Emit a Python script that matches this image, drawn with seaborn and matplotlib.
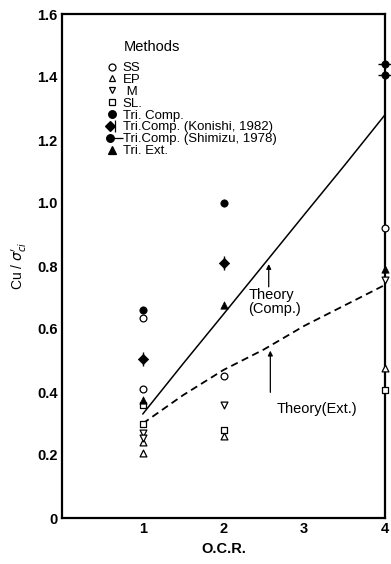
import matplotlib
matplotlib.use('Agg')
import matplotlib.pyplot as plt
import seaborn as sns
from matplotlib.lines import Line2D
from matplotlib.legend_handler import HandlerTuple

# data
ss_x = [1, 1, 2, 4]
ss_y = [0.635, 0.41, 0.45, 0.92]
ep_x = [1, 1, 2, 4]
ep_y = [0.24, 0.205, 0.26, 0.475]
m_x = [1, 1, 2, 4]
m_y = [0.27, 0.255, 0.36, 0.755]
sl_x = [1, 1, 2, 4]
sl_y = [0.36, 0.30, 0.28, 0.405]
tc_x = [1, 2]
tc_y = [0.66, 1.0]
kon_x = [1, 2]
kon_y = [0.505, 0.81]
shi_x = [4, 4]
shi_y = [1.44, 1.405]
te_x = [1, 2, 4]
te_y = [0.375, 0.675, 0.79]

theory_x = [1, 1.5, 2, 2.5, 3, 3.5, 4]
theory_comp = [0.33, 0.49, 0.647, 0.805, 0.963, 1.12, 1.28]
theory_ext = [0.30, 0.39, 0.47, 0.535, 0.61, 0.675, 0.74]

yticks = [0, 0.2, 0.4, 0.6, 0.8, 1.0, 1.2, 1.4, 1.6]
ytick_labels = ['0', '0.2', '0.4', '0.6', '0.8', '1.0', '1.2', '1.4', '1.6']
xticks = [1, 2, 3, 4]

sns.set_style('white')
plt.rcParams['font.family'] = ['Liberation Sans', 'DejaVu Sans']
plt.rcParams['mathtext.fontset'] = 'dejavusans'
plt.rcParams['text.color'] = 'black'
plt.rcParams['axes.labelcolor'] = 'black'

fig = plt.figure(figsize=(3.91, 5.64), dpi=100)
ax = fig.add_axes([62 / 391, 1 - 518 / 564, 323 / 391, 504 / 564])

# theory lines
sns.lineplot(x=theory_x, y=theory_comp, color='black', linewidth=1.1, ax=ax)
sns.lineplot(x=theory_x, y=theory_ext, color='black', linewidth=1.3,
             linestyle=(0, (4, 2.5)), ax=ax)

open_kw = dict(color='white', edgecolor='black', linewidth=0.9, s=24,
               clip_on=False, zorder=4, ax=ax)
fill_kw = dict(color='black', edgecolor='black', linewidth=0.5, s=28,
               clip_on=False, zorder=4, ax=ax)

sns.scatterplot(x=ss_x, y=ss_y, marker='o', **open_kw)
sns.scatterplot(x=ep_x, y=ep_y, marker='^', **open_kw)
sns.scatterplot(x=m_x, y=m_y, marker='v', **open_kw)
sns.scatterplot(x=sl_x, y=sl_y, marker='s', **open_kw)
sns.scatterplot(x=tc_x, y=tc_y, marker='o', **fill_kw)
sns.scatterplot(x=kon_x, y=kon_y, marker='D', **fill_kw)
sns.scatterplot(x=kon_x, y=kon_y, marker='|', color='black', s=110,
                linewidth=1.0, clip_on=False, zorder=4, ax=ax)
sns.scatterplot(x=shi_x, y=shi_y, marker='o', **fill_kw)
sns.scatterplot(x=shi_x, y=shi_y, marker='_', color='black', s=110,
                linewidth=1.0, clip_on=False, zorder=4, ax=ax)
sns.scatterplot(x=te_x, y=te_y, marker='^', **fill_kw)

ax.set_xlim(0, 4)
ax.set_ylim(0, 1.6)
ax.set_xticks(xticks)
ax.set_xticklabels([str(t) for t in xticks])
ax.set_yticks(yticks)
ax.set_yticklabels(ytick_labels)
ax.tick_params(direction='in', length=7, width=1, colors='black',
               labelsize=10.5, pad=3)
for lab in ax.get_xticklabels() + ax.get_yticklabels():
    lab.set_fontweight('bold')
for sp in ax.spines.values():
    sp.set_linewidth(1.6)
    sp.set_color('black')

ax.set_xlabel('O.C.R.', fontsize=10.5, fontweight='bold', labelpad=4)
ax.set_ylabel(r"Cu / $\sigma_{ci}'$", fontsize=10, labelpad=6)

# annotations
ax.annotate('', xy=(2.56, 0.815), xytext=(2.56, 0.725),
            arrowprops=dict(arrowstyle='-|>', color='black', lw=0.9,
                            mutation_scale=7))
ax.text(2.31, 0.73, 'Theory\n(Comp.)', fontsize=10.5, va='top', ha='left',
        linespacing=0.95)
ax.annotate('', xy=(2.58, 0.54), xytext=(2.58, 0.39),
            arrowprops=dict(arrowstyle='-|>', color='black', lw=0.9,
                            mutation_scale=7))
ax.text(2.66, 0.345, 'Theory(Ext.)', fontsize=10.5, va='center', ha='left')

# legend
def mk(marker, fc, ms=5):
    return Line2D([], [], linestyle='none', marker=marker, markersize=ms,
                  markerfacecolor=fc, markeredgecolor='black', markeredgewidth=0.9)

handles = [
    mk('o', 'white'), mk('^', 'white'), mk('v', 'white'), mk('s', 'white'),
    mk('o', 'black', 5.5),
    (mk('D', 'black', 5), mk('|', 'black', 9)),
    (mk('o', 'black', 5.5), mk('_', 'black', 11)),
    mk('^', 'black', 5.5),
]
labels = ['SS', 'EP', ' M', 'SL.', 'Tri. Comp.', 'Tri.Comp. (Konishi, 1982)',
          'Tri.Comp. (Shimizu, 1978)', 'Tri. Ext.']
fig.text(124 / 391, 1 - 47 / 564, 'Methods', fontsize=10.5, va='center',
         ha='left')
leg = ax.legend(handles, labels, loc='upper left',
                bbox_to_anchor=(107 / 391, 1 - 62 / 564),
                bbox_transform=fig.transFigure, frameon=False,
                fontsize=9.5, labelspacing=-0.03,
                handlelength=0.8, handletextpad=0.4, borderpad=0,
                borderaxespad=0,
                handler_map={tuple: HandlerTuple(ndivide=None)})

fig.savefig('out.png', dpi=100)
